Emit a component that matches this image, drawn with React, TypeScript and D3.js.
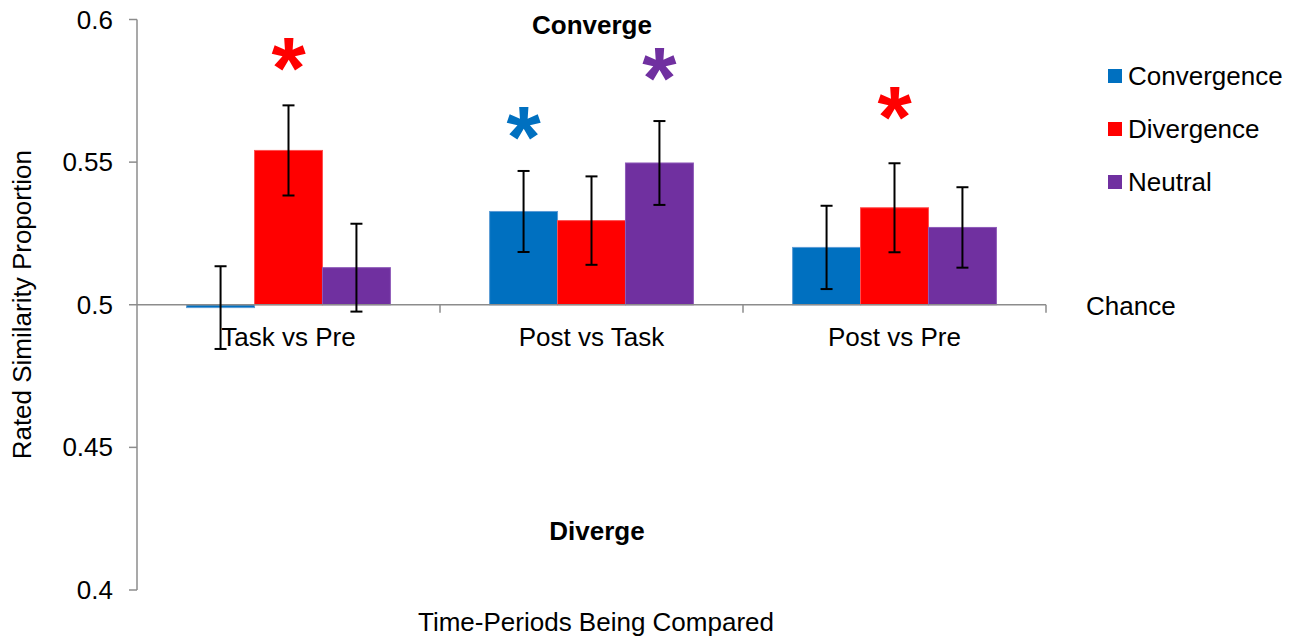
import React, { useEffect, useRef } from 'react';
import * as d3 from 'd3';

const categories = ['Task vs Pre', 'Post vs Task', 'Post vs Pre'];
const series = ['Convergence', 'Divergence', 'Neutral'];
const colors = ['#0070C0', '#FF0000', '#7030A0'];
const outlines = ['#5B9BD5', '#FF5050', '#8E5AB8'];

// values[category][series]
const values = [
  [0.499, 0.5541, 0.513],
  [0.5327, 0.5295, 0.5497],
  [0.5201, 0.534, 0.5271],
];
const errors = [
  [0.0145, 0.0158, 0.0154],
  [0.0142, 0.0155, 0.0147],
  [0.0146, 0.0156, 0.0141],
];
// significance stars: [category index, series index, value where star sits]
const stars = [
  [0, 1, 0.586],
  [1, 0, 0.5618],
  [1, 2, 0.5828],
  [2, 1, 0.5688],
];
const yTicks = [0.4, 0.45, 0.5, 0.55, 0.6];

const W = 1294;
const H = 638;
const FONT = 'Liberation Sans, Arial, sans-serif';

export default function App() {
  const svgRef = useRef(null);

  useEffect(() => {
    const svg = d3.select(svgRef.current);
    svg.selectAll('*').remove();

    const y = d3.scaleLinear().domain([0.4, 0.6]).range([590, 19.5]);
    const x0 = d3.scaleBand().domain(categories).range([137, 1046]).padding(0);
    const x1 = d3.scaleBand().domain(series).range([0, x0.bandwidth()]).paddingInner(0).paddingOuter(0.73);
    const axisColor = '#8c8c8c';
    const baseY = y(0.5);

    // bars
    const groups = svg.append('g').selectAll('g')
      .data(categories)
      .enter()
      .append('g')
      .attr('transform', d => `translate(${x0(d)},0)`);

    groups.each(function (cat, ci) {
      const g = d3.select(this);
      series.forEach((s, si) => {
        const v = values[ci][si];
        const bx = x1(s);
        g.append('rect')
          .attr('x', bx)
          .attr('y', Math.min(y(v), baseY))
          .attr('width', x1.bandwidth())
          .attr('height', Math.max(Math.abs(y(v) - baseY), 1))
          .attr('fill', colors[si])
          .attr('stroke', outlines[si])
          .attr('stroke-width', 1);
      });
    });

    // axes
    svg.append('line')
      .attr('x1', 137).attr('x2', 137)
      .attr('y1', y(0.6)).attr('y2', y(0.4))
      .attr('stroke', axisColor).attr('stroke-width', 1.5);
    yTicks.forEach(t => {
      svg.append('line')
        .attr('x1', 129).attr('x2', 137)
        .attr('y1', y(t)).attr('y2', y(t))
        .attr('stroke', axisColor).attr('stroke-width', 1.5);
      svg.append('text')
        .attr('x', 113).attr('y', y(t))
        .attr('dy', '0.35em')
        .attr('text-anchor', 'end')
        .attr('font-family', FONT).attr('font-size', 26)
        .text(d3.format('')(t));
    });

    svg.append('line')
      .attr('x1', 137).attr('x2', 1046)
      .attr('y1', baseY).attr('y2', baseY)
      .attr('stroke', axisColor).attr('stroke-width', 1.5);
    categories.forEach(c => {
      const bx = x0(c) + x0.bandwidth();
      svg.append('line')
        .attr('x1', bx).attr('x2', bx)
        .attr('y1', baseY).attr('y2', baseY + 8)
        .attr('stroke', axisColor).attr('stroke-width', 1.5);
      svg.append('text')
        .attr('x', x0(c) + x0.bandwidth() / 2)
        .attr('y', baseY + 41)
        .attr('text-anchor', 'middle')
        .attr('font-family', FONT).attr('font-size', 26)
        .text(c);
    });

    // error bars drawn above axis labels
    categories.forEach((cat, ci) => {
      series.forEach((s, si) => {
        const v = values[ci][si];
        const e = errors[ci][si];
        const cx = x0(cat) + x1(s) + x1.bandwidth() / 2;
        const eb = svg.append('g').attr('stroke', '#000').attr('stroke-width', 2);
        eb.append('line').attr('x1', cx).attr('x2', cx).attr('y1', y(v + e)).attr('y2', y(v - e));
        eb.append('line').attr('x1', cx - 6).attr('x2', cx + 6).attr('y1', y(v + e)).attr('y2', y(v + e));
        eb.append('line').attr('x1', cx - 6).attr('x2', cx + 6).attr('y1', y(v - e)).attr('y2', y(v - e));
      });
    });

    // stars
    stars.forEach(([ci, si, sv]) => {
      const cx = x0(categories[ci]) + x1(series[si]) + x1.bandwidth() / 2;
      svg.append('text')
        .attr('x', cx)
        .attr('y', y(sv) + 39)
        .attr('text-anchor', 'middle')
        .attr('font-family', FONT).attr('font-weight', 'bold').attr('font-size', 88)
        .attr('fill', colors[si])
        .text('*');
    });

    // annotations
    svg.append('text')
      .attr('x', 592).attr('y', 34)
      .attr('text-anchor', 'middle')
      .attr('font-family', FONT).attr('font-weight', 'bold').attr('font-size', 26)
      .text('Converge');
    svg.append('text')
      .attr('x', 597).attr('y', 540)
      .attr('text-anchor', 'middle')
      .attr('font-family', FONT).attr('font-weight', 'bold').attr('font-size', 26)
      .text('Diverge');
    svg.append('text')
      .attr('x', 1086).attr('y', baseY + 10)
      .attr('font-family', FONT).attr('font-size', 26)
      .text('Chance');

    // axis titles
    svg.append('text')
      .attr('transform', `translate(31,${y(0.5)}) rotate(-90)`)
      .attr('text-anchor', 'middle')
      .attr('font-family', FONT).attr('font-size', 26)
      .text('Rated Similarity Proportion');
    svg.append('text')
      .attr('x', 596).attr('y', 631)
      .attr('text-anchor', 'middle')
      .attr('font-family', FONT).attr('font-size', 26)
      .text('Time-Periods Being Compared');

    // legend
    const legend = svg.append('g').attr('transform', 'translate(1108,69)');
    series.forEach((s, i) => {
      const row = legend.append('g').attr('transform', `translate(0,${i * 53})`);
      row.append('rect').attr('width', 14).attr('height', 14).attr('fill', colors[i]);
      row.append('text')
        .attr('x', 20).attr('y', 7).attr('dy', '0.35em')
        .attr('font-family', FONT).attr('font-size', 26)
        .text(s);
    });
  }, []);

  return (
    <svg
      ref={svgRef}
      width={W}
      height={H}
      style={{ position: 'absolute', left: 0, top: 0, background: '#fff' }}
    />
  );
}
